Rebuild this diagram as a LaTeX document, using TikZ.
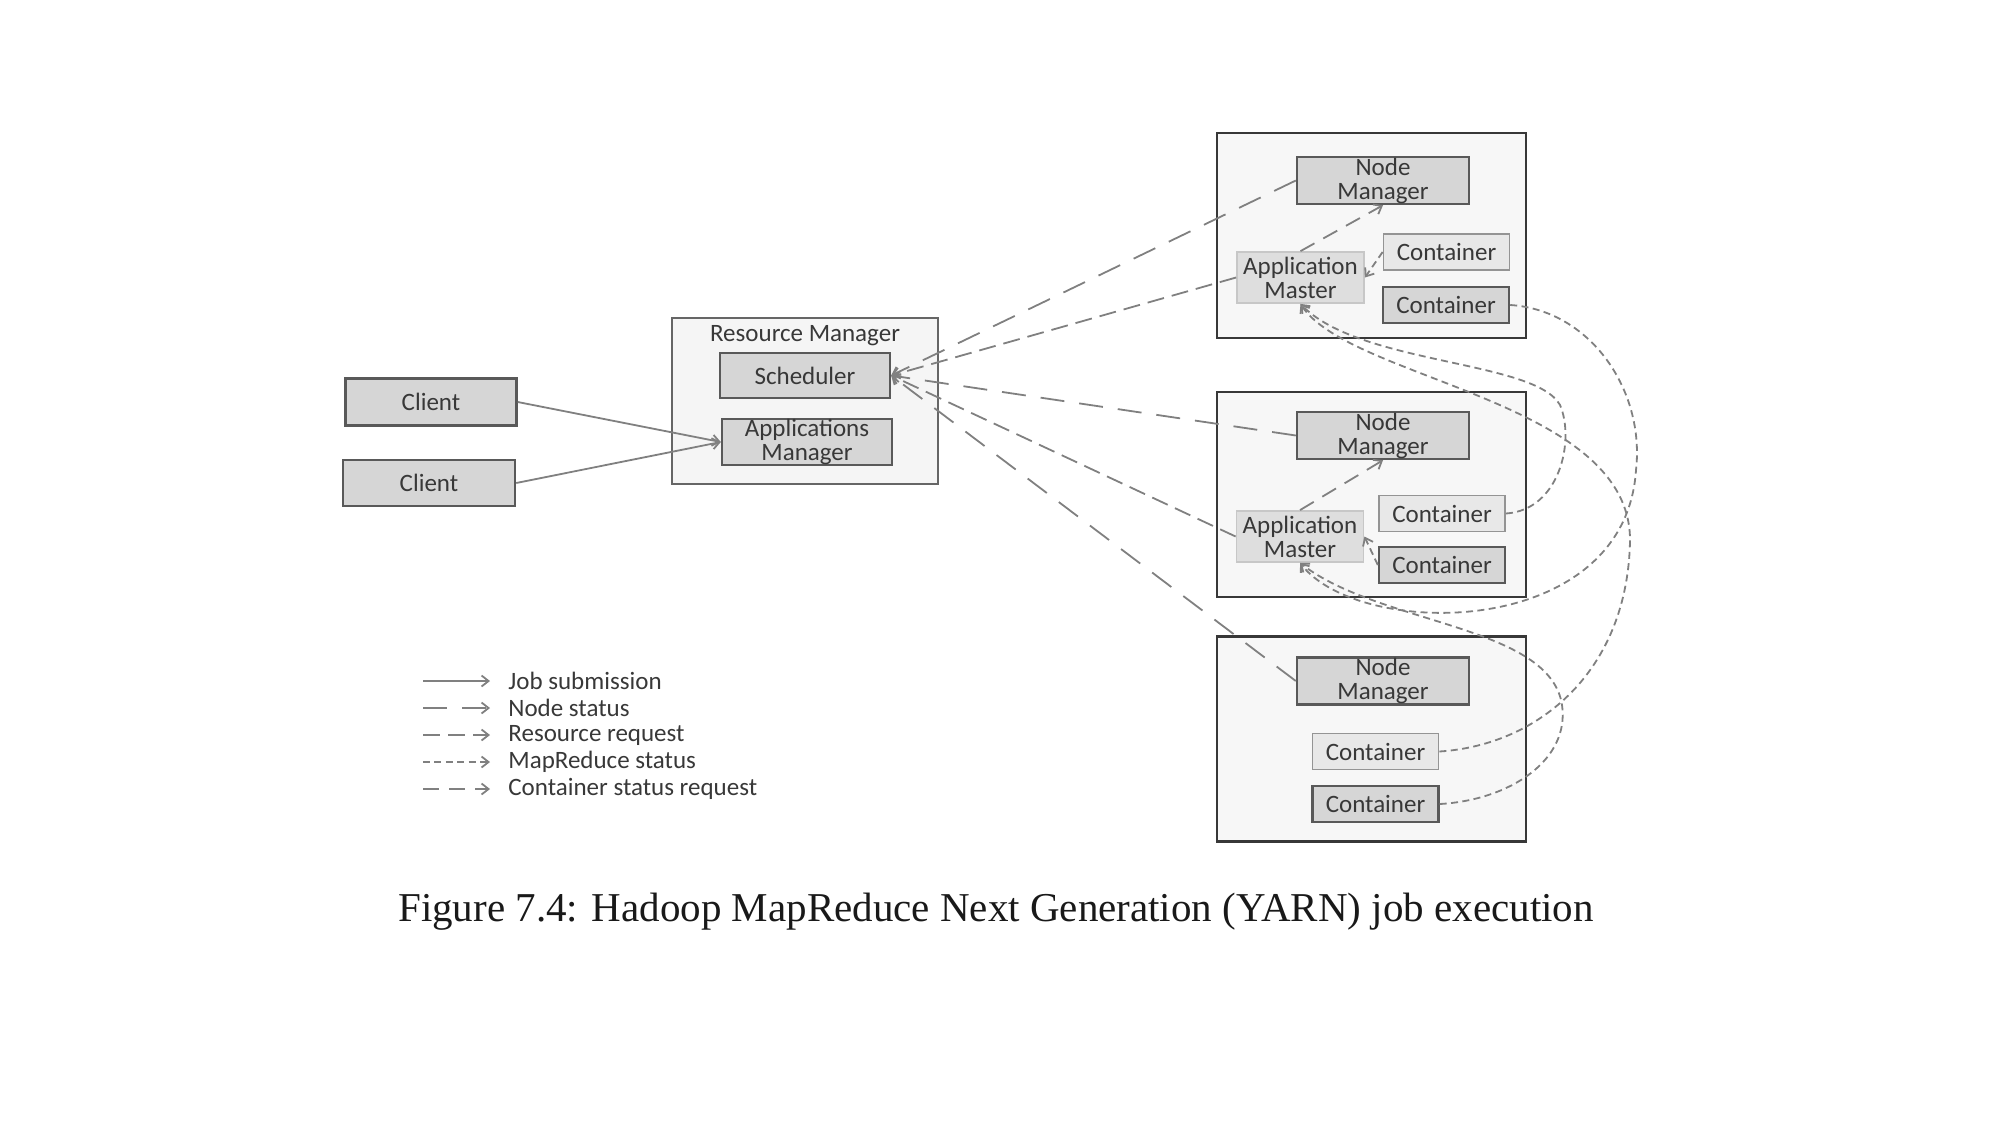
\documentclass[tikz,border=0pt]{standalone}
\usepackage{fontspec}
\setmainfont{Carlito}
\newfontfamily\capfont{Liberation Serif}
\usetikzlibrary{arrows.meta}

\newcommand{\boxfont}{\fontsize{12.5}{12}\selectfont}

\tikzset{
  box/.style={inner sep=0pt, align=center, font=\boxfont, text=black!78},
  darkbox/.style={box, draw=black!65, line width=1.2pt, fill=black!16},
  lightbox/.style={box, draw=black!42, line width=0.9pt, fill=black!9},
  ambox/.style={box, draw=black!22, line width=0.9pt, fill=black!13,
    minimum width=63.5pt, minimum height=25.5pt},
  nmbox/.style={darkbox, minimum width=86pt, minimum height=23.5pt},
  cont/.style={minimum width=63pt, minimum height=18pt},
  hostbox/.style={draw=black!78, line width=1.4pt, fill=black!3,
    minimum width=154.5pt, minimum height=102.5pt},
  rmbox/.style={draw=black!60, line width=1pt, fill=black!4},
  legtext/.style={font=\boxfont, text=black!78, anchor=west, inner sep=0pt},
  conn/.style={draw=black!50, line width=0.9pt, ->},
  jobsub/.style={conn},
  nodestat/.style={conn, dash pattern=on 12pt off 7.5pt},
  resreq/.style={conn, dash pattern=on 8.5pt off 4pt},
  mrstat/.style={conn, dash pattern=on 3.5pt off 2.2pt},
  contreq/.style={conn, dash pattern=on 8pt off 5pt},
}

\begin{document}
\begin{tikzpicture}[x=0.5pt, y=-0.5pt, >={Straight Barb[length=3.5pt,width=5.5pt]}]
    \useasboundingbox (0,0) rectangle (2000,1125);
    % Host machines
    \node[hostbox] (host1) at (1371.5,235.5) {};
    \node[hostbox] (host2) at (1371.5,494.5) {};
    \node[hostbox] (host3) at (1371.5,739) {};
    % Resource manager
    \node[rmbox, minimum width=133pt, minimum height=83pt] (rm) at (805,401) {};
    \node[font=\boxfont, text=black!78] (rmlabel) at (805,336) {Resource Manager};
    \node[darkbox, minimum width=85pt, minimum height=22.5pt] (sched) at (805,375.5) {Scheduler};
    \node[darkbox, minimum width=85pt, minimum height=23pt] (apps) at (807,442) {Applications\\Manager};
    % Clients
    \node[darkbox, minimum width=85.5pt, minimum height=23.5pt] (client1) at (431,402) {Client};
    \node[darkbox, minimum width=86pt, minimum height=23pt] (client2) at (429,483) {Client};
    % Node managers, application masters, containers
    \node[nmbox] (nm1) at (1383,180.5) {Node\\Manager};
    \node[nmbox] (nm2) at (1383,435.5) {Node\\Manager};
    \node[nmbox] (nm3) at (1383,681) {Node\\Manager};
    \node[ambox] (am1) at (1300.5,277.5) {Application\\Master};
    \node[ambox] (am2) at (1300,536.5) {Application\\Master};
    \node[lightbox, cont] (c1a) at (1446.5,252) {Container};
    \node[darkbox, cont] (c1b) at (1446,305) {Container};
    \node[lightbox, cont] (c2a) at (1442,513.5) {Container};
    \node[darkbox, cont] (c2b) at (1442,565) {Container};
    \node[lightbox, cont] (c3a) at (1375.5,751.5) {Container};
    \node[darkbox, cont] (c3b) at (1375.5,804) {Container};
    % Job submission
    \draw[jobsub] (client1.east) -- (apps.west);
    \draw[jobsub] (client2.east) -- (apps.west);
    % Node status
    \draw[nodestat] (nm1.west) -- (sched.east);
    \draw[nodestat] (nm2.west) -- (sched.east);
    \draw[nodestat] (nm3.west) -- (sched.east);
    % Resource request
    \draw[resreq] (am1.west) -- (sched.east);
    \draw[resreq] (am2.west) -- (sched.east);
    % Container status request
    \draw[contreq] (am1.north) -- (nm1.south);
    \draw[contreq] (am2.north) -- (nm2.south);
    % MapReduce status
    \draw[mrstat] (c1a.west) -- (am1.east);
    \draw[mrstat] (c2b.west) -- (am2.east);
    \draw[mrstat] (c2a.east) .. controls (1560,510) and (1575,440) .. (1560,405)
        .. controls (1535,360) and (1360,365) .. (am1.south);
    \draw[mrstat] (c3a.east) .. controls (1540,745) and (1628,670) .. (1630,540)
        .. controls (1630,400) and (1350,380) .. (am1.south);
    \draw[mrstat] (c1b.east) .. controls (1590,310) and (1645,390) .. (1636,470)
        .. controls (1625,640) and (1360,640) .. (am2.south);
    \draw[mrstat] (c3b.east) .. controls (1510,800) and (1570,760) .. (1562,705)
        .. controls (1550,625) and (1380,625) .. (am2.south);
    % Legend
    \foreach \sty/\txt [count=\i] in {jobsub/Job submission, nodestat/Node status,
        resreq/Resource request, mrstat/MapReduce status, contreq/Container status request} {
        \coordinate (lega\i) at (423,654+27*\i);
        \coordinate (legb\i) at (490,654+27*\i);
        \draw[\sty] (lega\i) -- (legb\i);
        \node[legtext] (leg\i) at (508,654+27*\i) {\txt};
    }
    % Caption
    \node[font=\capfont\fontsize{20.5}{24}\selectfont, text=black!90] (caption) at (996,912)
        {Figure 7.4: Hadoop MapReduce Next Generation (YARN) job execution};
\end{tikzpicture}
\end{document}
